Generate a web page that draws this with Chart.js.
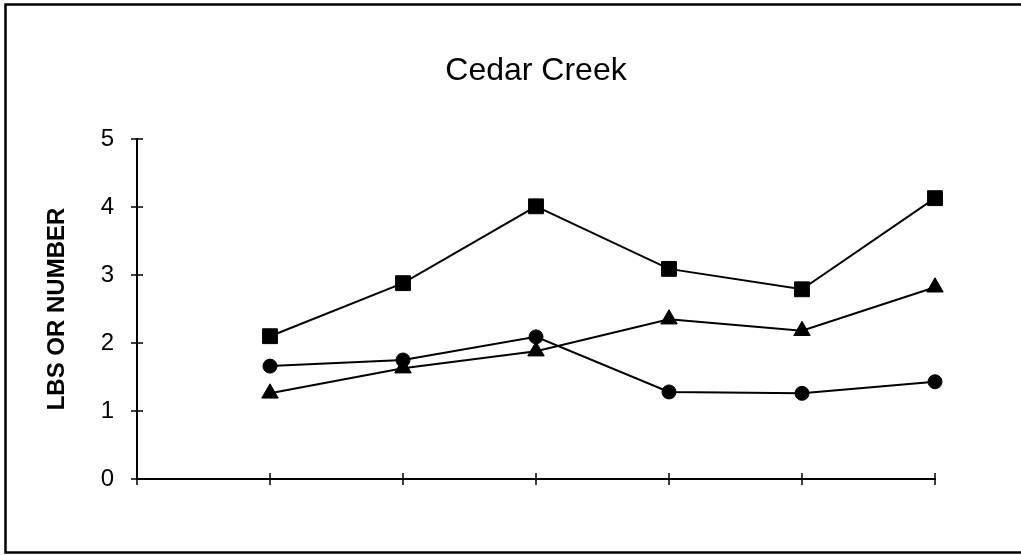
<!DOCTYPE html>
<html>
<head>
<meta charset="utf-8">
<script src="https://cdn.jsdelivr.net/npm/chart.js@4/dist/chart.umd.min.js"></script>
<style>
  html, body { margin: 0; padding: 0; background: #ffffff; }
  #wrap { position: absolute; left: 0; top: 0; width: 1021px; height: 555px; }
</style>
</head>
<body>
<div id="wrap"><canvas id="c" width="1021" height="555"></canvas></div>
<script>
const chartTitle = 'Cedar Creek';
const yAxisTitle = 'LBS OR NUMBER';
const periods = [1, 2, 3, 4, 5, 6];
const yTicks = [0, 1, 2, 3, 4, 5];
const squareSeries = [2.10, 2.88, 4.01, 3.09, 2.79, 4.13];
const circleSeries = [1.66, 1.75, 2.09, 1.28, 1.26, 1.43];
const triangleSeries = [1.26, 1.63, 1.88, 2.35, 2.18, 2.82];

function toPoints(vals) {
  return vals.map((v, i) => ({ x: periods[i], y: v }));
}

const FONT = '"Liberation Sans", Arial, Helvetica, sans-serif';

const framePlugin = {
  id: 'frame',
  beforeDraw(chart) {
    const ctx = chart.ctx;
    ctx.save();
    ctx.fillStyle = '#ffffff';
    ctx.fillRect(0, 0, chart.width, chart.height);
    ctx.strokeStyle = '#000000';
    ctx.lineWidth = 2.5;
    ctx.strokeRect(5.5, 4.5, 1030, 548);
    ctx.restore();
  },
  afterDraw(chart) {
    const ctx = chart.ctx;
    const xs = chart.scales.x, ys = chart.scales.y;
    const area = chart.chartArea;
    ctx.save();
    ctx.strokeStyle = '#000000';
    ctx.lineWidth = 1.5;
    ctx.beginPath();
    ys.ticks.forEach(t => {
      const py = ys.getPixelForValue(t.value);
      ctx.moveTo(area.left - 6, py);
      ctx.lineTo(area.left + 6, py);
    });
    xs.ticks.forEach(t => {
      const px = xs.getPixelForValue(t.value);
      ctx.moveTo(px, area.bottom - 6);
      ctx.lineTo(px, area.bottom + 6);
    });
    ctx.stroke();
    // chart title centred over the plot area
    ctx.fillStyle = '#000000';
    ctx.font = '32px ' + FONT;
    ctx.textAlign = 'center';
    ctx.textBaseline = 'middle';
    ctx.fillText(chartTitle, (area.left + area.right) / 2, 71);
    ctx.restore();
  }
};

const common = {
  borderColor: '#000000',
  backgroundColor: '#000000',
  pointBackgroundColor: '#000000',
  pointBorderColor: '#000000',
  borderWidth: 2,
  pointBorderWidth: 1,
  tension: 0,
  fill: false,
  clip: false
};

new Chart(document.getElementById('c'), {
  type: 'line',
  data: {
    datasets: [
      Object.assign({ label: 'Series 1', data: toPoints(squareSeries), pointStyle: 'rect', pointRadius: 10.5 }, common),
      Object.assign({ label: 'Series 2', data: toPoints(circleSeries), pointStyle: 'circle', pointRadius: 7 }, common),
      Object.assign({ label: 'Series 3', data: toPoints(triangleSeries), pointStyle: 'triangle', pointRadius: 9.5 }, common)
    ]
  },
  options: {
    responsive: false,
    animation: false,
    devicePixelRatio: 1,
    layout: { padding: { left: 0, top: 139, right: 86, bottom: 66 } },
    plugins: {
      legend: { display: false },
      tooltip: { enabled: false },
      title: { display: false }
    },
    scales: {
      x: {
        type: 'linear',
        min: 0,
        max: periods.length,
        grid: { display: false },
        border: { display: true, color: '#000000', width: 2 },
        ticks: { display: false, stepSize: 1 },
        afterFit(scale) { scale.height = 10; }
      },
      y: {
        type: 'linear',
        min: yTicks[0],
        max: yTicks[yTicks.length - 1],
        grid: { display: false },
        border: { display: true, color: '#000000', width: 2 },
        ticks: {
          stepSize: 1,
          padding: 15,
          color: '#000000',
          font: { family: FONT, size: 24 }
        },
        title: {
          display: true,
          text: yAxisTitle,
          color: '#000000',
          font: { family: FONT, size: 24, weight: 'bold' },
          padding: { top: 43, bottom: 0 }
        },
        afterFit(scale) { scale.width = 137; }
      }
    }
  },
  plugins: [framePlugin]
});
</script>
</body>
</html>
